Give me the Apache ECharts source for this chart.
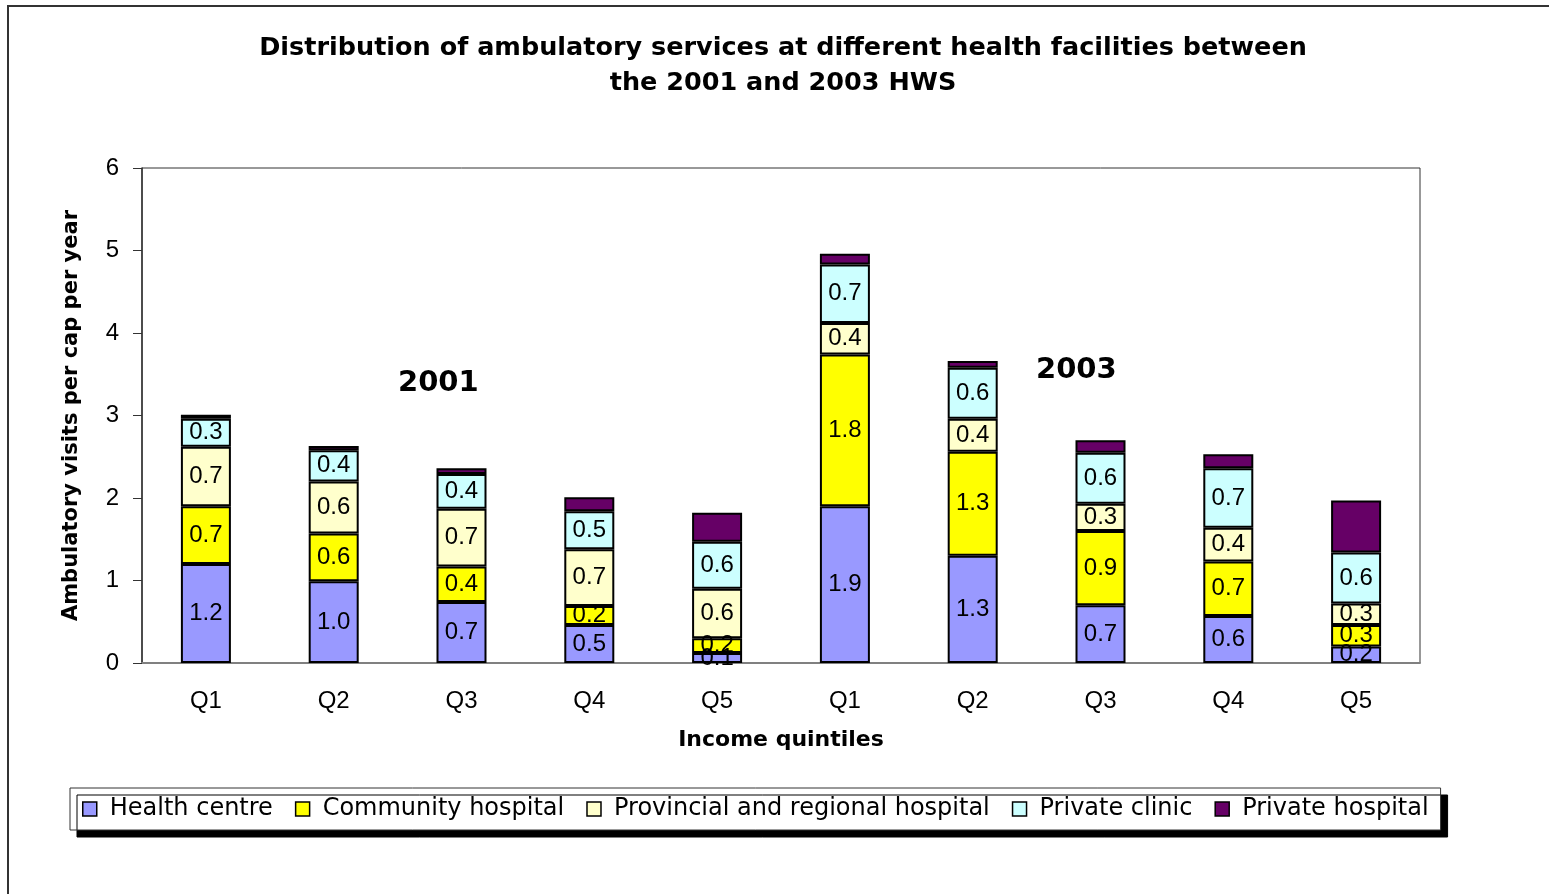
<!DOCTYPE html>
<html>
<head>
<meta charset="utf-8">
<script src="https://cdn.jsdelivr.net/npm/echarts@6/dist/echarts.min.js"></script>
<style>html,body{margin:0;padding:0;background:#fff;}#c{width:1549px;height:894px;}</style>
</head>
<body>
<div id="c"></div>
<script>
var categories = ["Q1","Q2","Q3","Q4","Q5","Q1","Q2","Q3","Q4","Q5"];
var yTicks = [0,1,2,3,4,5,6];
var healthCentre = [1.20, 0.99, 0.74, 0.46, 0.12, 1.90, 1.30, 0.70, 0.57, 0.20];
var communityHospital = [0.70, 0.58, 0.43, 0.23, 0.18, 1.84, 1.26, 0.90, 0.66, 0.26];
var provincialHospital = [0.72, 0.63, 0.70, 0.69, 0.60, 0.38, 0.40, 0.33, 0.41, 0.26];
var privateClinic = [0.34, 0.38, 0.42, 0.46, 0.57, 0.71, 0.62, 0.62, 0.72, 0.62];
var privateHospital = [0.05, 0.05, 0.07, 0.17, 0.35, 0.13, 0.08, 0.15, 0.17, 0.63];
var seriesNames = ["Health centre","Community hospital","Provincial and regional hospital","Private clinic","Private hospital"];
var colors = ["#9999FF","#FFFF00","#FFFFCC","#CCFFFF","#660066"];

var FONT = "Arial, 'Liberation Sans', sans-serif";
var WIDE = "'DejaVu Sans', sans-serif";
var chart = echarts.init(document.getElementById('c'));
var allData = [healthCentre, communityHospital, provincialHospital, privateClinic, privateHospital];
var series = allData.map(function(d, i){
  return {
    name: seriesNames[i], type: 'bar', stack: 'total', data: d, barWidth: 50,
    barCategoryGap: '60%',
    itemStyle: {color: colors[i], borderColor: '#000', borderWidth: 2},
    label: {
      show: i < 4, position: 'inside', color: '#000', fontSize: 24, fontFamily: FONT,
      formatter: function(p){ return p.value.toFixed(1); }
    }
  };
});
chart.setOption({
  animation: false,
  color: colors,
  title: {
    text: 'Distribution of ambulatory services at different health facilities between\nthe 2001 and 2003 HWS',
    left: 778, top: 26, textAlign: 'center',
    textStyle: {fontSize: 25.5, fontWeight: 'bold', fontFamily: WIDE, color: '#000', lineHeight: 35}
  },
  grid: {left: 142, top: 168, right: 129, bottom: 231, show: true, borderColor: '#333', borderWidth: 1},
  legend: {
    left: 70, top: 788, padding: [9, 12, 9, 12], itemWidth: 14, itemHeight: 14, itemGap: 22,
    backgroundColor: '#fff', borderColor: '#333', borderWidth: 1,
    shadowColor: '#000', shadowBlur: 0, shadowOffsetX: 7, shadowOffsetY: 7,
    itemStyle: {borderColor: '#000', borderWidth: 1.5},
    icon: 'rect',
    textStyle: {fontSize: 24, fontFamily: WIDE, color: '#000', padding: [0,0,0,8]},
    data: seriesNames
  },
  xAxis: {
    type: 'category', data: categories,
    name: 'Income quintiles', nameLocation: 'middle', nameGap: 66,
    nameTextStyle: {fontSize: 22, fontWeight: 'bold', fontFamily: WIDE, color: '#000'},
    axisLine: {lineStyle: {color: '#808080', width: 2}},
    axisTick: {show: false},
    axisLabel: {fontSize: 24, fontFamily: FONT, color: '#000', margin: 26}
  },
  yAxis: {
    type: 'value', min: 0, max: 6, interval: 1,
    name: 'Ambulatory visits per cap per year', nameLocation: 'middle', nameGap: 60,
    nameTextStyle: {fontSize: 21, fontWeight: 'bold', fontFamily: WIDE, color: '#000'},
    axisLine: {show: true, lineStyle: {color: '#333', width: 1.5}},
    axisTick: {show: true, inside: false, length: 9, lineStyle: {color: '#333'}},
    splitLine: {show: false},
    axisLabel: {fontSize: 24, fontFamily: FONT, color: '#000', margin: 23,
      formatter: function(v){ return yTicks.indexOf(v) >= 0 ? String(v) : ''; }}
  },
  graphic: [
    {type: 'rect', z: -10, shape: {x: 8, y: 6, width: 1600, height: 950}, style: {fill: 'none', stroke: '#333', lineWidth: 2}},
    {type: 'text', left: 398, top: 369, style: {text: '2001', fontSize: 29, fontWeight: 'bold', fontFamily: WIDE, fill: '#000'}},
    {type: 'text', left: 1036, top: 356, style: {text: '2003', fontSize: 29, fontWeight: 'bold', fontFamily: WIDE, fill: '#000'}}
  ],
  series: series
});
</script>
</body>
</html>
